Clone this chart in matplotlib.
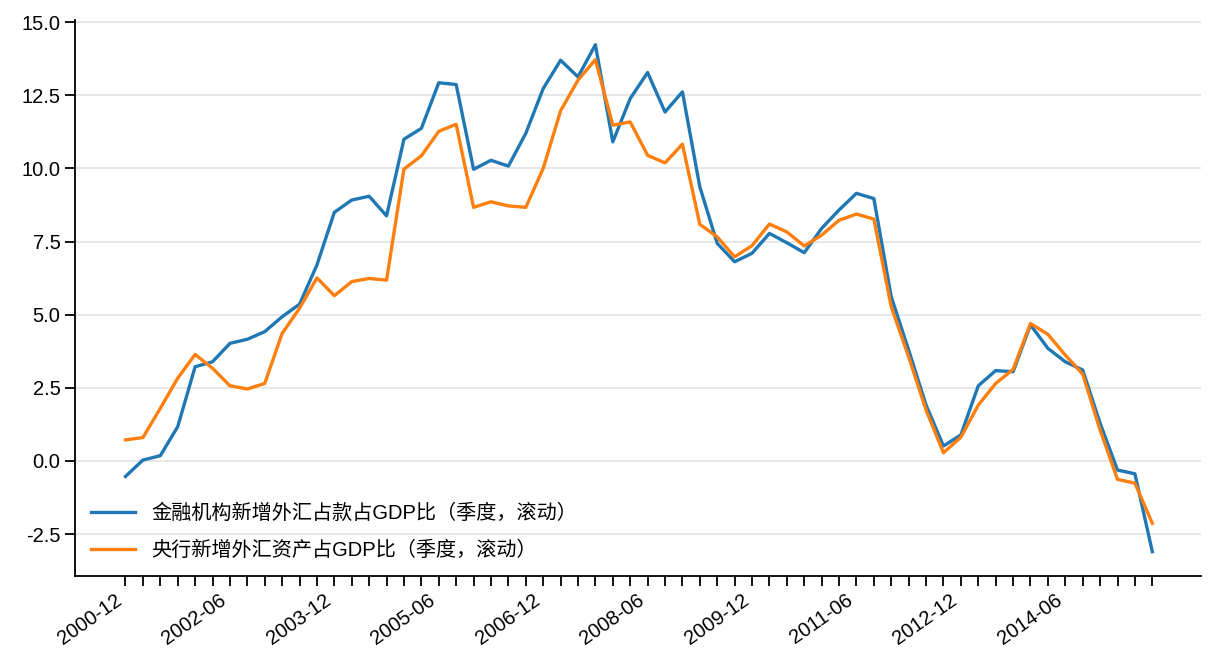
import matplotlib
matplotlib.use("Agg")
import matplotlib.pyplot as plt

plt.rcParams["font.family"] = ["Liberation Sans", "Noto Sans CJK SC", "DejaVu Sans"]
plt.rcParams["axes.unicode_minus"] = False

# quarterly, 2000-12 .. 2015-09
quarters = []
y, m = 2000, 12
for _ in range(60):
    quarters.append(f"{y}-{m:02d}")
    m += 3
    if m > 12:
        m -= 12
        y += 1

fin_inst = [
    -0.53, 0.03, 0.18, 1.17, 3.22, 3.39, 4.02, 4.16, 4.42, 4.93,
    5.36, 6.70, 8.50, 8.92, 9.05, 8.38, 11.00, 11.37, 12.93, 12.87,
    9.97, 10.28, 10.08, 11.20, 12.73, 13.70, 13.13, 14.23, 10.91, 12.39,
    13.28, 11.93, 12.62, 9.37, 7.44, 6.81, 7.10, 7.78, 7.46, 7.12,
    7.95, 8.58, 9.15, 8.97, 5.61, 3.79, 1.91, 0.51, 0.89, 2.57,
    3.09, 3.05, 4.65, 3.85, 3.39, 3.11, 1.29, -0.31, -0.44, -3.10,
]
central_bank = [
    0.72, 0.80, 1.80, 2.83, 3.64, 3.17, 2.57, 2.46, 2.65, 4.36,
    5.22, 6.26, 5.65, 6.13, 6.24, 6.18, 9.98, 10.43, 11.27, 11.51,
    8.67, 8.86, 8.72, 8.67, 10.00, 11.97, 13.02, 13.72, 11.48, 11.59,
    10.45, 10.19, 10.83, 8.09, 7.66, 6.98, 7.36, 8.10, 7.83, 7.35,
    7.72, 8.23, 8.44, 8.27, 5.27, 3.56, 1.74, 0.28, 0.81, 1.91,
    2.65, 3.13, 4.70, 4.33, 3.62, 2.97, 1.06, -0.63, -0.76, -2.13,
]
labels = ["金融机构新增外汇占款占GDP比（季度，滚动）", "央行新增外汇资产占GDP比（季度，滚动）"]

fig = plt.figure(figsize=(12.16, 6.72), dpi=100)
ax = fig.add_axes([0.0617, 0.143, 0.926, 0.827])

x = list(range(len(quarters)))
ax.plot(x, fin_inst, color="#1f77b4", lw=2.4, label=labels[0])
ax.plot(x, central_bank, color="#ff7f0e", lw=2.4, label=labels[1])

ax.set_xlim(-2.9, 61.8)
ax.set_ylim(-3.93, 15.07)
yt = [-2.5, 0, 2.5, 5, 7.5, 10, 12.5, 15]
ax.set_yticks(yt)
ax.set_yticklabels([f"{v:.1f}" for v in yt])
ax.set_xticks(x)
ax.set_xticklabels([q if i % 6 == 0 else "" for i, q in enumerate(quarters)],
                   rotation=35, ha="right")

ax.grid(axis="y", color="#e5e5e5", lw=1.3)
ax.set_axisbelow(True)
for s in ("top", "right"):
    ax.spines[s].set_visible(False)
for s in ("left", "bottom"):
    ax.spines[s].set_linewidth(1.3)
ax.tick_params(labelsize=14.5, length=7, width=1.3)

ax.legend(loc="lower left", frameon=False, fontsize=14.5, handlelength=2.2,
          labelspacing=0.85, borderaxespad=0.4)

fig.savefig("out.png", dpi=100)
